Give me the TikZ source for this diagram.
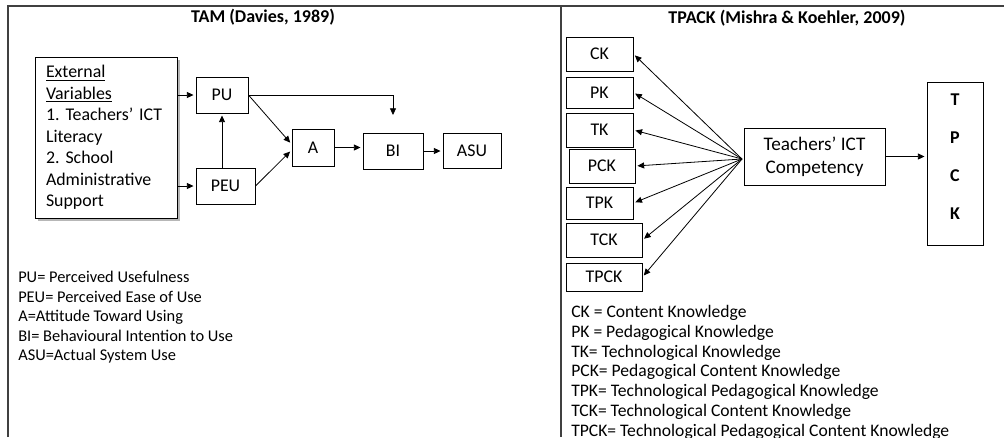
\documentclass[tikz,border=0pt]{standalone}
\usepackage{fontspec}
\setmainfont{Carlito}
\usetikzlibrary{arrows.meta,shadows}
\frenchspacing

\begin{document}
\begin{tikzpicture}[x=0.75pt,y=-0.75pt,>={Triangle[length=5pt,width=4.5pt]},
   box/.style={draw,line width=0.7pt,inner sep=0pt,font=\fontsize{13.4}{16.1}\selectfont},
   arr/.style={->,line width=0.6pt,shorten >=1.5pt},
   frame/.style={draw=black!75,line width=1.2pt},
   title/.style={font=\fontsize{13.5}{16}\selectfont\bfseries},
   legend/.style={anchor=north west,align=left,inner sep=0pt}]
   \useasboundingbox (0,0) rectangle (1004,437);
   \draw[frame] (8,437) -- (8,6) -- (1004,6);
   \draw[frame] (561,6) -- (561,437);

   % TAM
   \node[title] (tamtitle) at (263,17) {TAM (Davies, 1989)};
   \node[box,fill=white,minimum width=106.5pt,minimum height=120.75pt,
         text width=90pt,align=left,
         drop shadow={shadow xshift=2.2pt,shadow yshift=-2.2pt,fill=black!40,opacity=.7}]
         (ext) at (106,137.5)
         {\underline{External}\\\underline{Variables}\\1. Teachers’ ICT\\Literacy\\2. School\\Administrative\\Support};
   \node[box,minimum width=39pt,minimum height=27pt] (PU) at (222,95) {PU};
   \node[box,minimum width=44.25pt,minimum height=27pt] (PEU) at (225.5,186) {PEU};
   \node[box,minimum width=31.5pt,minimum height=27.75pt] (A) at (313,147.5) {A};
   \node[box,minimum width=45pt,minimum height=27pt] (BI) at (393,151) {BI};
   \node[box,minimum width=43.5pt,minimum height=26.25pt] (ASU) at (472,150.5) {ASU};
   \coordinate (biin) at (393,117);

   \draw[arr] (ext.east |- PU) -- (PU.west);
   \draw[arr] (ext.east |- PEU) -- (PEU.west);
   \draw[arr] (PEU.north -| PU.south) -- (PU.south);
   \draw[arr] (PU.east) -- ([yshift=2.5pt]A.west);
   \draw[arr] (PEU.east) -- ([yshift=-2pt]A.west);
   \draw[arr] (PU.east) -| (biin);
   \draw[arr] (A.east) -- (A.east -| BI.west);
   \draw[arr] (BI.east) -- (BI.east -| ASU.west);

   \node[legend,font=\fontsize{12.3}{14.6}\selectfont] (tamkey) at (18,271)
      {PU= Perceived Usefulness\\PEU= Perceived Ease of Use\\A=Attitude Toward Using\\BI= Behavioural Intention to Use\\ASU=Actual System Use};

   % TPACK
   \node[title] (tpacktitle) at (787,18) {TPACK (Mishra \& Koehler, 2009)};
   \node[box,minimum width=50.25pt,minimum height=25.5pt] (CK) at (599.5,54) {CK};
   \node[box,minimum width=50.25pt,minimum height=23.25pt] (PK) at (599.5,92.5) {PK};
   \node[box,minimum width=50.25pt,minimum height=25.5pt] (TK) at (599.5,130) {TK};
   \node[box,minimum width=49.5pt,minimum height=25.5pt] (PCK) at (602,166) {PCK};
   \node[box,minimum width=50.25pt,minimum height=24pt] (TPK) at (599.5,203) {TPK};
   \node[box,minimum width=57pt,minimum height=25.5pt] (TCK) at (604,240) {TCK};
   \node[box,minimum width=57pt,minimum height=21pt] (TPCK) at (604,277) {TPCK};
   \node[box,minimum width=105.75pt,minimum height=42.75pt,align=center,
         font=\fontsize{14.4}{17.5}\selectfont] (ICT) at (814.5,156.5) {Teachers’ ICT\\Competency};
   \node[box,minimum width=42pt,minimum height=122.25pt,
         label={[font=\fontsize{13.5}{28.3}\selectfont\bfseries,align=center,yshift=5.2pt]center:T\\P\\C\\K}]
         (tpack) at (955,163.5) {};
   \coordinate (hub) at (742,159);

   \foreach \k in {CK,PK,TK,PCK,TPK,TCK,TPCK}
      \draw[arr] (hub) -- (\k.east);
   \draw[arr] (ICT.east) -- (ICT.east -| tpack.west);

   \node[legend,font=\fontsize{13.2}{14.85}\selectfont] (tpackkey) at (571,305)
      {CK = Content Knowledge\\PK = Pedagogical Knowledge\\TK= Technological Knowledge\\PCK= Pedagogical Content Knowledge\\TPK= Technological Pedagogical Knowledge\\TCK= Technological Content Knowledge\\TPCK= Technological Pedagogical Content Knowledge};
\end{tikzpicture}
\end{document}
